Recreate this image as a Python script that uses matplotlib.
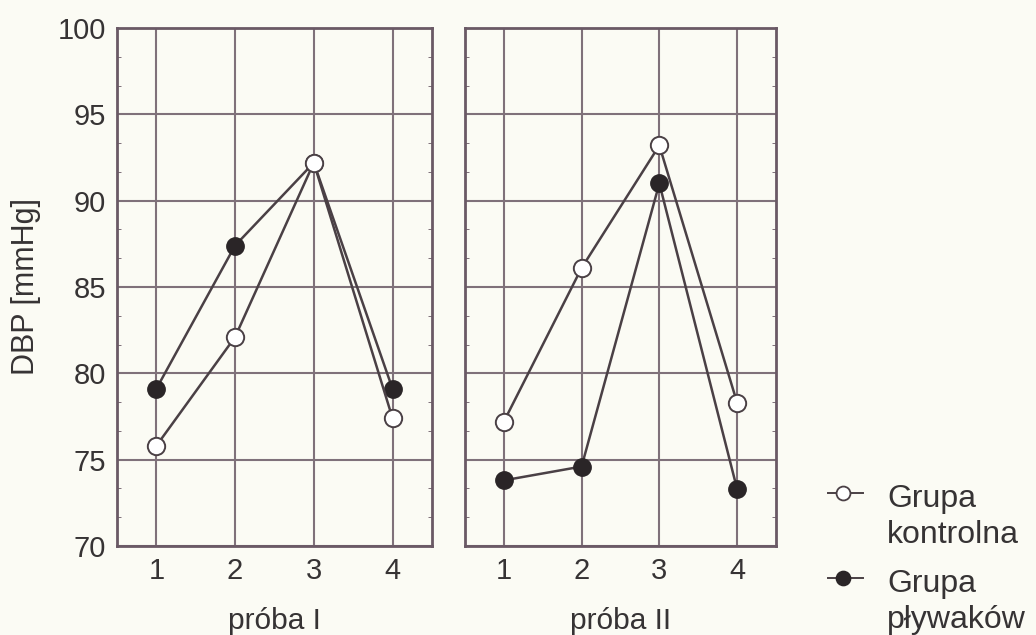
import matplotlib
matplotlib.use('Agg')
from matplotlib import pyplot as plt
from matplotlib.lines import Line2D
from matplotlib.ticker import MultipleLocator
import numpy as np

plt.rcParams['font.family'] = ['Liberation Sans', 'DejaVu Sans']

proby = [1, 2, 3, 4]
# próba I
kontrolna_1 = [75.8, 82.1, 92.2, 77.4]
plywakow_1 = [79.1, 87.4, 92.2, 79.1]
# próba II
kontrolna_2 = [77.2, 86.1, 93.2, 78.3]
plywakow_2 = [73.8, 74.6, 91.0, 73.3]

panel_titles = ['próba I', 'próba II']
labels = ['Grupa\nkontrolna', 'Grupa\npływaków']

bg = '#fbfbf4'
grid_c = '#7f717a'
spine_c = '#6a5965'
line_c = '#4a4045'
text_c = '#363334'
fill_c = '#2a2527'

fig = plt.figure(figsize=(10.36, 6.35), dpi=100, facecolor=bg)
ax1 = fig.add_axes([0.1129, 0.1402, 0.3040, 0.8157])
ax2 = fig.add_axes([0.4488, 0.1402, 0.3002, 0.8157])

for ax, kon, ply, title in [(ax1, kontrolna_1, plywakow_1, panel_titles[0]),
                            (ax2, kontrolna_2, plywakow_2, panel_titles[1])]:
    ax.set_facecolor(bg)
    ax.set_xlim(0.5, 4.5)
    ax.set_ylim(70, 100)
    ax.set_xticks(proby)
    ax.yaxis.set_major_locator(MultipleLocator(5))
    ax.yaxis.set_minor_locator(MultipleLocator(5 / 3))
    ax.grid(True, color=grid_c, linewidth=1.5)
    ax.set_axisbelow(True)
    for s in ax.spines.values():
        s.set_color(spine_c)
        s.set_linewidth(2)
    ax.tick_params(axis='both', which='major', length=0, labelsize=21,
                   labelcolor=text_c, pad=8)
    ax.tick_params(axis='y', which='minor', length=3, color=spine_c,
                   direction='in', left=True, right=True)
    ax.plot(proby, ply, '-o', color=line_c, lw=1.8, ms=12.5,
            mfc=fill_c, mec=fill_c, zorder=3)
    ax.plot(proby, kon, '-o', color=line_c, lw=1.8, ms=12.5,
            mfc='white', mec=line_c, mew=1.4, zorder=4)
    ax.set_xlabel(title, fontsize=21.5, color=text_c, labelpad=16)

ax2.tick_params(axis='y', which='major', labelleft=False)
ax1.set_ylabel('DBP [mmHg]', fontsize=22, color=text_c, labelpad=12)

# legend drawn by hand: marker next to the first text line
leg = [(493, 'white', line_c, labels[0]), (578, fill_c, fill_c, labels[1])]
for ypx, mfc, mec, lab in leg:
    yf = 1 - ypx / 635
    fig.add_artist(Line2D([828 / 1036, 863 / 1036], [yf, yf], color=line_c,
                          lw=1.4, transform=fig.transFigure))
    fig.add_artist(Line2D([843 / 1036], [yf], marker='o', ms=10, mfc=mfc,
                          mec=mec, mew=1.3, transform=fig.transFigure))
    for i, part in enumerate(lab.split('\n')):
        base = ypx + 14 + 36 * i
        fig.text(887 / 1036, 1 - base / 635, part, fontsize=23, color=text_c,
                 va='baseline', ha='left')

plt.savefig('out.png', dpi=100, facecolor=bg)
